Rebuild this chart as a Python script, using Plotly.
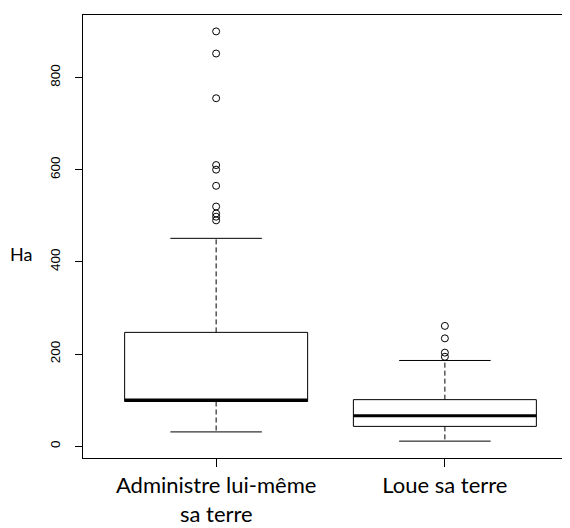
import plotly.graph_objects as go

categories = ["Administre lui-même", "Loue sa terre"]
category_second_line = ["sa terre", ""]
positions = [1, 2]
q1 = [97, 43]
median = [100, 66]
q3 = [247, 101]
lower_whisker = [31, 11]
upper_whisker = [451, 186]
outliers = [
    [900, 852, 755, 610, 600, 565, 520, 505, 498, 490],
    [261, 234, 203, 194],
]
y_ticks = [0, 200, 400, 600, 800]

BOX_HALF = 0.4
CAP_HALF = 0.2

# page body has an 8px margin; compensate so the plot lands where the reference has it
OFF = 8
W, H = 570 - OFF, 528 - OFF
ML, MR, MT = 83 - OFF, 0, 15 - OFF
PH = 443
MB = H - MT - PH
PW = W - ML - MR

def py(pixel_y):
    return (MT + OFF + PH - pixel_y) / PH

def px(pixel_x):
    return (pixel_x - ML - OFF) / PW

fig = go.Figure()

for i, p in enumerate(positions):
    fig.add_trace(go.Scatter(
        x=[p, p, None, p, p],
        y=[q3[i], upper_whisker[i], None, q1[i], lower_whisker[i]],
        mode="lines", line=dict(color="#000", width=1, dash="5px,3px"),
        hoverinfo="skip", showlegend=False))
    fig.add_trace(go.Scatter(
        x=[p - CAP_HALF, p + CAP_HALF, None, p - CAP_HALF, p + CAP_HALF],
        y=[upper_whisker[i], upper_whisker[i], None, lower_whisker[i], lower_whisker[i]],
        mode="lines", line=dict(color="#000", width=1),
        hoverinfo="skip", showlegend=False))
    fig.add_trace(go.Scatter(
        x=[p - BOX_HALF, p + BOX_HALF, p + BOX_HALF, p - BOX_HALF, p - BOX_HALF],
        y=[q1[i], q1[i], q3[i], q3[i], q1[i]],
        mode="lines", line=dict(color="#000", width=1),
        fill="toself", fillcolor="white",
        hoverinfo="skip", showlegend=False))
    fig.add_trace(go.Scatter(
        x=[p - BOX_HALF, p + BOX_HALF],
        y=[median[i], median[i]],
        mode="lines", line=dict(color="#000", width=3),
        hoverinfo="skip", showlegend=False))
    fig.add_trace(go.Scatter(
        x=[p] * len(outliers[i]), y=outliers[i],
        mode="markers",
        marker=dict(symbol="circle-open", size=7, color="#000", line=dict(width=1)),
        hoverinfo="skip", showlegend=False))

for i, p in enumerate(positions):
    if category_second_line[i]:
        fig.add_annotation(
            text=category_second_line[i], xref="x", yref="paper", x=p,
            y=py(514), showarrow=False,
            xanchor="center", yanchor="middle",
            font=dict(family="Lato", size=22, color="#000"))

fig.add_annotation(
    text="Ha", xref="paper", yref="paper", x=px(21), y=py(254),
    showarrow=False, xanchor="center", yanchor="middle",
    font=dict(family="Lato", size=18, color="#000"))

fig.update_layout(
    width=W, height=H,
    margin=dict(l=ML, r=MR, t=MT, b=MB),
    paper_bgcolor="white", plot_bgcolor="white",
    xaxis=dict(
        range=[0.418, 2.547], tickmode="array", tickvals=positions, ticktext=categories,
        showgrid=False, zeroline=False, showline=True, mirror=True, automargin=False,
        linecolor="#000", linewidth=1, ticks="outside", ticklen=8, tickcolor="#000",
        tickfont=dict(family="Lato", size=22, color="#000"), ticklabelstandoff=0),
    yaxis=dict(
        range=[-25.6, 935.6], tickmode="array", tickvals=y_ticks,
        showgrid=False, zeroline=False, showline=True, mirror=False, automargin=False,
        linecolor="#000", linewidth=1, ticks="outside", ticklen=7, tickcolor="#000",
        tickangle=-90,
        tickfont=dict(family="Liberation Sans", size=13.5, color="#000"), ticklabelstandoff=10),
)

fig.write_html("out.html")
